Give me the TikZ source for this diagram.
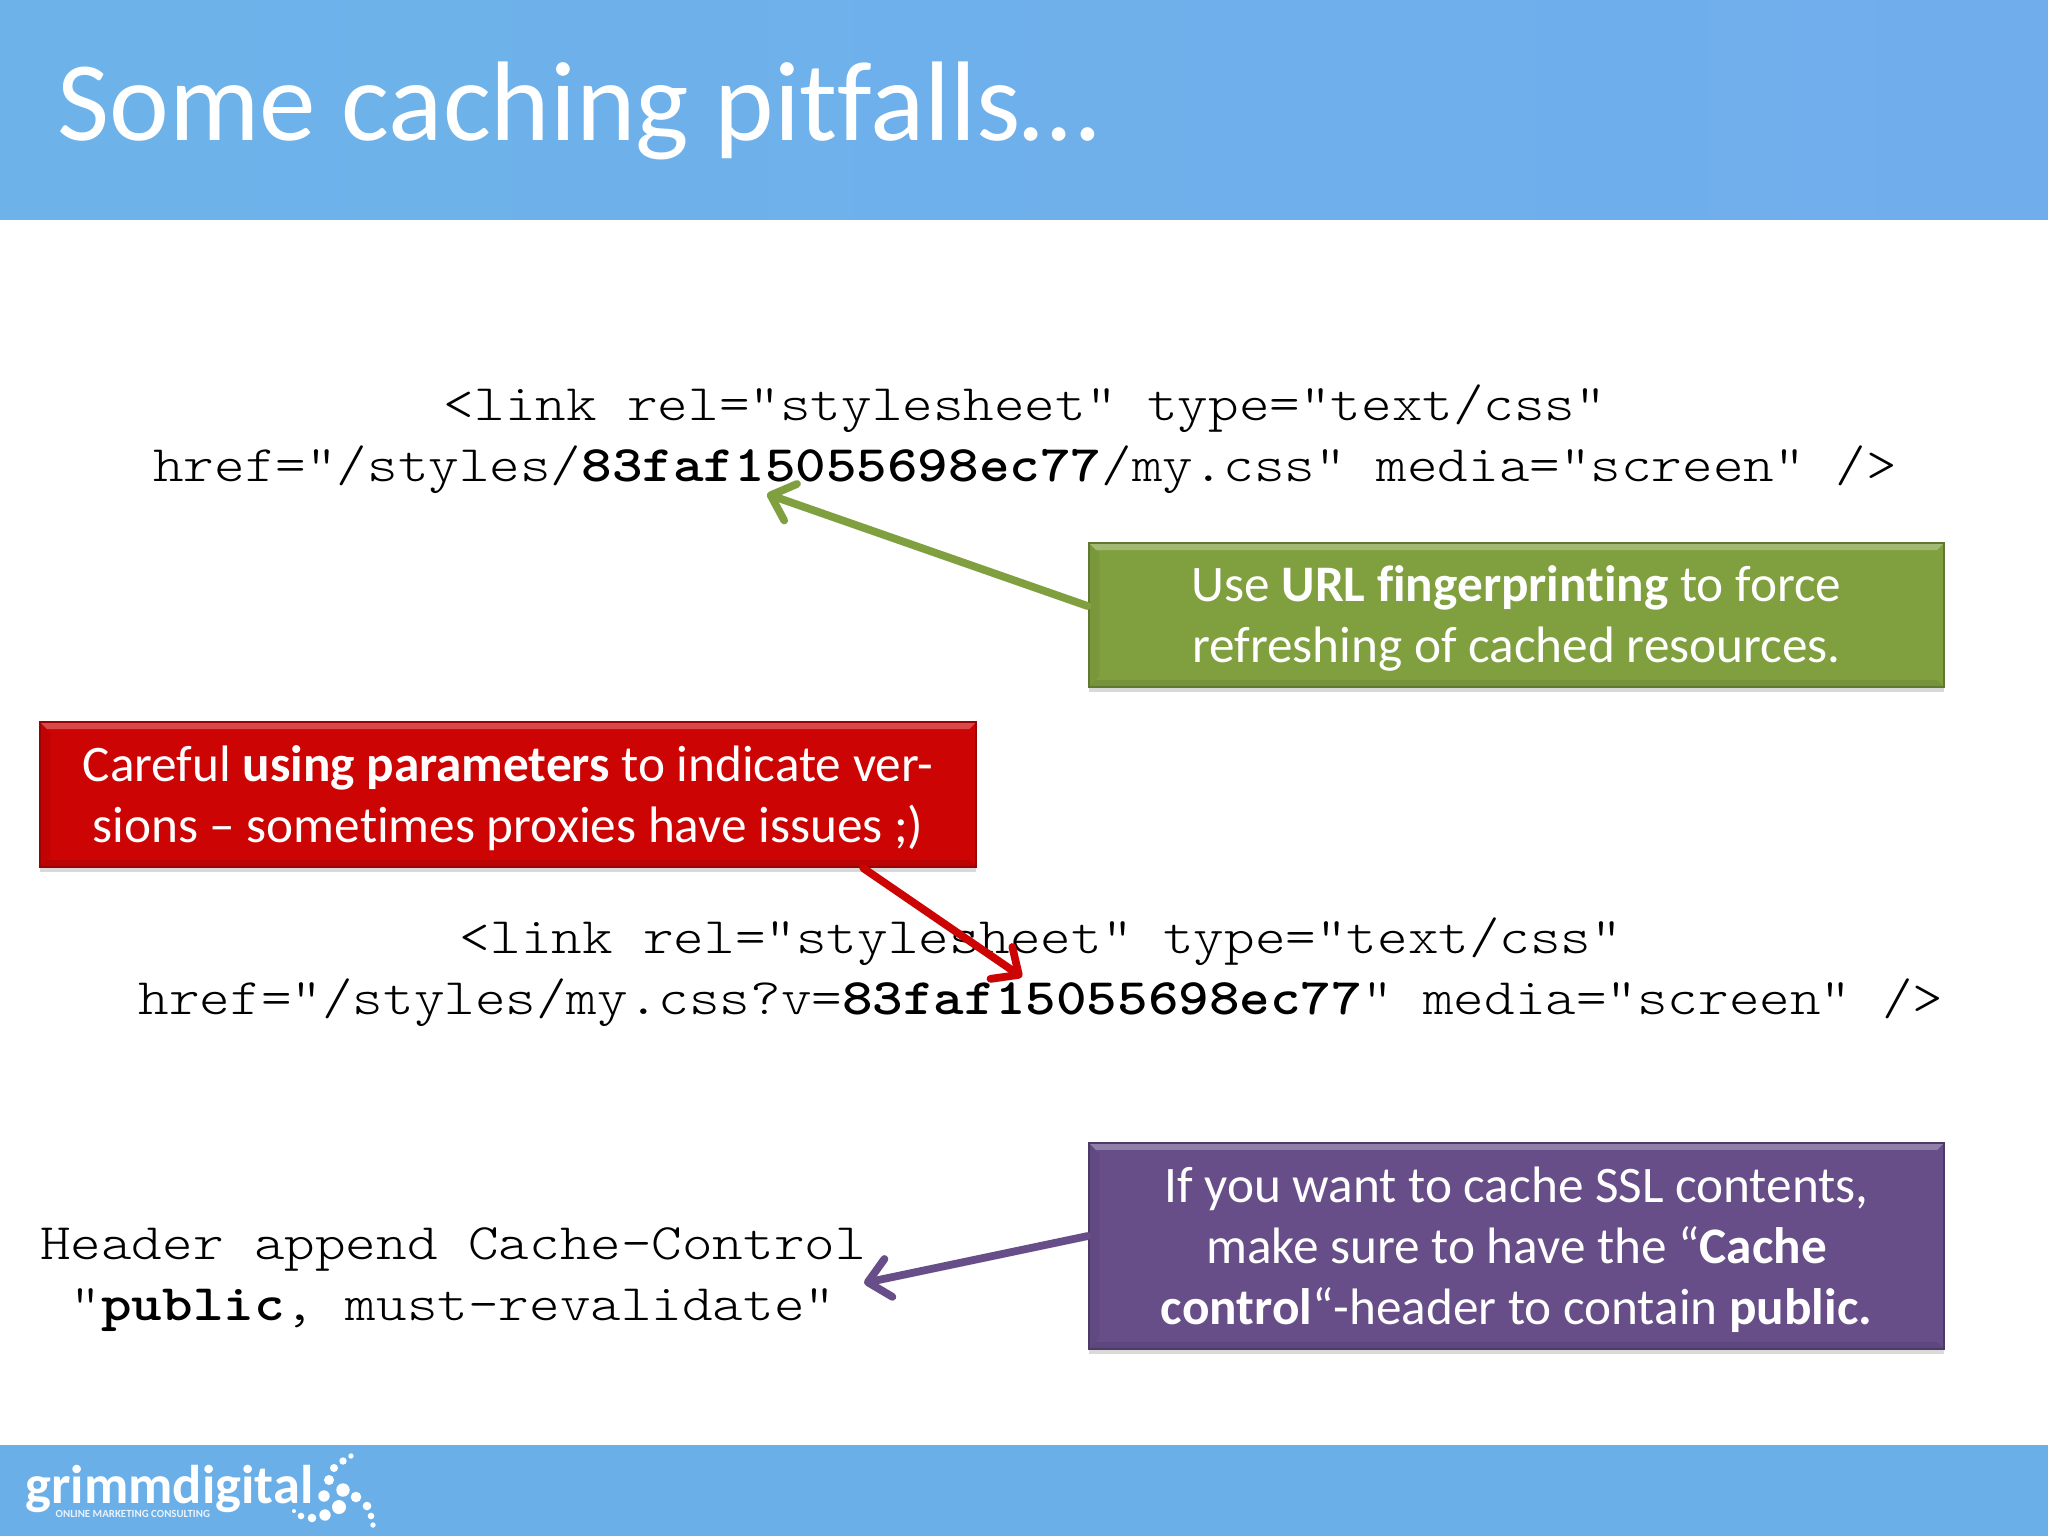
\documentclass[tikz,border=0pt]{standalone}
\usepackage{fontspec}
\setmainfont[Ligatures=CommonOff]{Carlito}
\newfontfamily\codefont[FakeStretch=1.137]{Latin Modern Mono Light}
\usepackage{tikz}
\usetikzlibrary{arrows.meta,shadows,positioning}

\definecolor{bandblue}{HTML}{6BAFE9}
\definecolor{bandleft}{HTML}{6DB3E9}
\definecolor{bandright}{HTML}{70ADED}
\definecolor{greenfill}{HTML}{80A03F}
\definecolor{redfill}{HTML}{CC0404}
\definecolor{purplefill}{HTML}{674E88}
\newcommand{\firstline}{\rule{0pt}{12.3pt}}

\tikzset{
    bevel/.style={path picture={
        \fill[white,opacity=.28] (path picture bounding box.north west) -- (path picture bounding box.north east)
            -- ([shift={(-2pt,-2pt)}]path picture bounding box.north east) -- ([shift={(2pt,-2pt)}]path picture bounding box.north west) -- cycle;
        \fill[black,opacity=.05] (path picture bounding box.north west) -- (path picture bounding box.south west)
            -- ([shift={(3pt,3pt)}]path picture bounding box.south west) -- ([shift={(3pt,-3pt)}]path picture bounding box.north west) -- cycle;
        \fill[black,opacity=.08] (path picture bounding box.south west) -- (path picture bounding box.south east)
            -- ([shift={(-2pt,2pt)}]path picture bounding box.south east) -- ([shift={(2pt,2pt)}]path picture bounding box.south west) -- cycle;
    }},
    callout/.style={draw=#1!75!black,line width=.6pt,fill=#1,bevel,text=white,align=center,inner sep=0pt,
        font=\fontsize{14.57}{17.35}\selectfont,
        drop shadow={shadow xshift=0pt,shadow yshift=-1.5pt,opacity=.3}},
    codetext/.style={align=center,inner sep=0pt,text=black,font=\codefont\fontsize{14.57}{17.35}\selectfont},
    pointer/.style={draw=#1,line width=2.2pt,line cap=round,
        -{Straight Barb[round,length=6pt,width=11pt,line width=2.2pt]},
        preaction={draw=black,opacity=.15,transform canvas={yshift=-1pt}}}
}

\begin{document}
\begin{tikzpicture}[x=0.01cm,y=-0.01cm]
    \useasboundingbox (0,0) rectangle (2048,1536);
    % Bands
    \fill[left color=bandleft,right color=bandright] (0,0) rectangle (2048,219);
    \fill[bandblue] (0,1445) rectangle (2048,1536);
    \node[anchor=base west,inner sep=0pt,text=white,font=\fontsize{32.2}{32.2}\selectfont] (title) at (57,140) {Some caching pitfalls…};
    % Code
    \node[codetext] (firstcode) at (1025,439) {<link rel="stylesheet" type="text/css"\\href="/styles/\textbf{83faf15055698ec77}/my.css" media="screen" />};
    \node[codetext] (secondcode) at (1041,972) {<link rel="stylesheet" type="text/css"\\href="/styles/my.css?v=\textbf{83faf15055698ec77}" media="screen" />};
    \node[codetext] (thirdcode) at (453,1280) {Header append Cache-Control\\"\textbf{public}, must-revalidate"};
    % Boxes
    \node[callout=greenfill,minimum width=8.55cm,minimum height=1.44cm] (greenbox) at (1516.5,615)
        {\firstline Use \textbf{URL fingerprinting} to force\\refreshing of cached resources.};
    \node[callout=redfill,minimum width=9.36cm,minimum height=1.45cm] (redbox) at (508,794.5)
        {\firstline Careful \textbf{using parameters} to indicate ver-\\sions – sometimes proxies have issues ;)};
    \node[callout=purplefill,minimum width=8.55cm,minimum height=2.06cm] (purplebox) at (1516.5,1246)
        {\firstline If you want to cache SSL contents,\\make sure to have the “\textbf{Cache}\\\textbf{control}“-header to contain \textbf{public.}};
    % Arrows
    \coordinate (greentip) at (767,494);
    \coordinate (redtip) at (1022,977);
    \coordinate (purpletip) at (864,1283);
    \draw[pointer=greenfill] ([yshift=.09cm]greenbox.west) -- (greentip);
    \draw[pointer=redfill] ([xshift=3.55cm]redbox.south) -- (redtip);
    \draw[pointer=purplefill] ([yshift=.1cm]purplebox.west) -- (purpletip);
    % Logo
    \node[anchor=base west,inner sep=0pt,text=white,font=\bfseries\fontsize{15.5}{15.5}\selectfont] (logoname) at (25,1503) {grimmdigital};
    \node[anchor=base west,inner sep=0pt,text=white!85!bandblue,font=\bfseries\fontsize{3.1}{3.1}\selectfont] (logosub) at (55,1517) {ONLINE MARKETING CONSULTING};
    \foreach \px/\py/\pr in {351/1456/2.7,343/1461/3.7,334/1468/4,329/1480/5,343/1490/6.7,324/1496/5.7,356/1497/5.3,367/1506/4.3,339/1507/7,325/1515/5.7,312/1518/4.3,301/1516/3.3,294/1511/2,371/1516/3.3,373/1525/2.7}
        \fill[white] (\px,\py) circle[radius=\pr];
\end{tikzpicture}
\end{document}
